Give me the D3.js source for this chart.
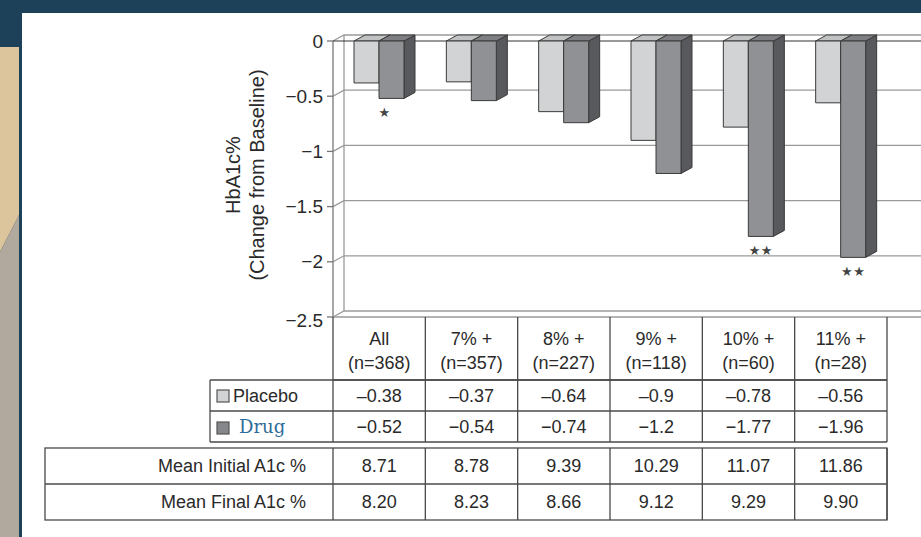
<!DOCTYPE html>
<html>
<head>
<meta charset="utf-8">
<script src="https://cdn.jsdelivr.net/npm/d3@7"></script>
<style>
  body { margin: 0; background: #fff; }
  svg { display: block; font-family: "Liberation Sans", Arial, Helvetica, sans-serif; }
</style>
</head>
<body>
<svg width="921" height="537"></svg>
<script>
const categories   = ["All", "7% +", "8% +", "9% +", "10% +", "11% +"];
const groupSizes   = ["(n=368)", "(n=357)", "(n=227)", "(n=118)", "(n=60)", "(n=28)"];
const placebo      = [-0.38, -0.37, -0.64, -0.9, -0.78, -0.56];
const drug         = [-0.52, -0.54, -0.74, -1.2, -1.77, -1.96];
const significance = ["*", "", "", "", "**", "**"];
const meanInitial  = ["8.71", "8.78", "9.39", "10.29", "11.07", "11.86"];
const meanFinal    = ["8.20", "8.23", "8.66", "9.12", "9.29", "9.90"];
const yTicks       = [0, -0.5, -1, -1.5, -2, -2.5];

const svg = d3.select("svg");
const W = 921, H = 537;
const depth = { dx: 11, dy: -6 };
const gridColor = "#9a9a9a";
const lineColor = "#4a4a4a";

// slide background
svg.append("rect").attr("width", W).attr("height", H).attr("fill", "#fff");
svg.append("rect").attr("width", W).attr("height", 13).attr("fill", "#1c4159");
svg.append("rect").attr("width", 22).attr("height", H).attr("fill", "#1c4159");
svg.append("polygon").attr("points", "0,47 19,47 19,215 0,252").attr("fill", "#dcc59c");
svg.append("polygon").attr("points", "0,252 19,215 19,537 0,537").attr("fill", "#b2a99e");

const x = d3.scaleBand().domain(categories).range([333, 887]);
const xSeries = d3.scaleBand().domain(["placebo", "drug"]).range([21, 71]);
const y = d3.scaleLinear().domain([-2.5, 0]).range([317, 41]);
const x0 = x.range()[0];

// walls and gridlines
const grid = svg.append("g").attr("class", "grid").attr("fill", "none");

grid.selectAll("polyline.back")
  .data(yTicks)
  .join("polyline")
    .attr("class", "back")
    .attr("stroke", gridColor)
    .attr("stroke-width", 1.3)
    .attr("points", d => `${x0},${y(d)} ${x0 + depth.dx},${y(d) + depth.dy} ${W},${y(d) + depth.dy}`);

grid.append("line")
    .attr("x1", x0 + depth.dx).attr("x2", x0 + depth.dx)
    .attr("y1", y(0) + depth.dy).attr("y2", y(-2.5) + depth.dy)
    .attr("stroke", gridColor).attr("stroke-width", 1.3);

grid.append("line")
    .attr("x1", x0).attr("x2", W)
    .attr("y1", y(-2.5)).attr("y2", y(-2.5))
    .attr("stroke", gridColor).attr("stroke-width", 1.3);

grid.append("line")
    .attr("x1", x0).attr("x2", W)
    .attr("y1", y(0)).attr("y2", y(0))
    .attr("stroke", "#333").attr("stroke-width", 1.2);

// y axis
const yAxis = svg.append("g").attr("class", "y-axis");

yAxis.append("line")
    .attr("x1", x0).attr("x2", x0)
    .attr("y1", y(0)).attr("y2", y(-2.5))
    .attr("stroke", "#777").attr("stroke-width", 1.3);

yAxis.selectAll("g")
  .data(yTicks)
  .join("g")
    .call(g => g.append("line")
      .attr("x1", x0 - 6).attr("x2", x0)
      .attr("y1", d => y(d)).attr("y2", d => y(d))
      .attr("stroke", "#777").attr("stroke-width", 1.3))
    .call(g => g.append("text")
      .attr("x", x0 - 10)
      .attr("y", d => y(d) + (d === -2.5 ? 3 : 0))
      .attr("dy", "0.35em")
      .attr("text-anchor", "end")
      .attr("font-size", 19)
      .attr("fill", "#2a2a2a")
      .text(d => d === 0 ? "0" : "\u2212" + Math.abs(d)));

const yTitle = svg.append("text")
    .attr("transform", "translate(243, 175) rotate(-90)")
    .attr("text-anchor", "middle")
    .attr("font-size", 20)
    .attr("fill", "#2a2a2a");
yTitle.append("tspan").attr("x", 0).attr("dy", "-0.15em").text("HbA1c%");
yTitle.append("tspan").attr("x", 0).attr("dy", "1.2em").text("(Change from Baseline)");

// 3D bars
const bars = [];
categories.forEach((c, i) => {
  bars.push({ cat: c, series: "placebo", value: placebo[i] });
  bars.push({ cat: c, series: "drug", value: drug[i] });
});

const colors = {
  placebo: { front: "#d1d3d4", top: "#c0c2c3", side: "#a5a7a9" },
  drug:    { front: "#909194", top: "#7e7f82", side: "#58595c" }
};

const barG = svg.append("g").attr("class", "bars")
    .attr("stroke", "#3a3a3a").attr("stroke-width", 1).attr("stroke-linejoin", "round");

barG.selectAll("g")
  .data(bars)
  .join("g")
    .each(function(d) {
      const g = d3.select(this);
      const bx = x(d.cat) + xSeries(d.series);
      const bw = xSeries.bandwidth();
      const yt = y(0), yb = y(d.value);
      const { dx, dy } = depth;
      g.append("polygon")
        .attr("fill", colors[d.series].side)
        .attr("points", `${bx + bw},${yt} ${bx + bw + dx},${yt + dy} ${bx + bw + dx},${yb + dy} ${bx + bw},${yb}`);
      g.append("polygon")
        .attr("fill", colors[d.series].top)
        .attr("points", `${bx},${yt} ${bx + dx},${yt + dy} ${bx + bw + dx},${yt + dy} ${bx + bw},${yt}`);
      g.append("rect")
        .attr("fill", colors[d.series].front)
        .attr("x", bx).attr("y", yt)
        .attr("width", bw).attr("height", yb - yt);
    });

// significance stars under drug bars
svg.append("g").attr("class", "stars")
  .selectAll("text")
  .data(categories.map((c, i) => ({ cat: c, value: drug[i], mark: significance[i] })).filter(d => d.mark))
  .join("text")
    .attr("x", d => x(d.cat) + xSeries("drug") + xSeries.bandwidth() / 2 - (d.mark.length === 1 ? 7 : 0))
    .attr("y", d => y(d.value) + 19)
    .attr("text-anchor", "middle")
    .attr("font-family", "DejaVu Sans, sans-serif")
    .attr("font-size", 13)
    .attr("letter-spacing", 0.5)
    .attr("fill", "#444")
    .text(d => d.mark.replace(/\*/g, "\u2605"));

// data table
const table = svg.append("g").attr("class", "table");
const colEdges = categories.map(c => x(c)).concat([x.range()[1]]);
const center = c => x(c) + x.bandwidth() / 2;
const fmt = (d, dash) => dash + Math.abs(d);

const hLine = (x1, x2, yy) => table.append("line")
  .attr("x1", x1).attr("x2", x2).attr("y1", yy).attr("y2", yy)
  .attr("stroke", lineColor).attr("stroke-width", 1.3);
const vLine = (xx, y1, y2) => table.append("line")
  .attr("x1", xx).attr("x2", xx).attr("y1", y1).attr("y2", y2)
  .attr("stroke", lineColor).attr("stroke-width", 1.3);

// header + series rows
colEdges.forEach(e => vLine(e, 317, 442));
hLine(333, 887, 380);
hLine(210, 887, 380);
hLine(210, 887, 411);
hLine(210, 887, 442);
vLine(210, 380, 442);

// mean rows
table.append("rect")
    .attr("x", 45).attr("y", 448).attr("width", 887 - 45).attr("height", 72)
    .attr("fill", "none").attr("stroke", lineColor).attr("stroke-width", 1.3);
hLine(45, 887, 484);
colEdges.forEach(e => vLine(e, 448, 520));

const cellText = (data, yy, textFn) => table.append("g")
  .selectAll("text")
  .data(data)
  .join("text")
    .attr("x", (d, i) => center(categories[i]))
    .attr("y", yy)
    .attr("text-anchor", "middle")
    .attr("font-size", 18)
    .attr("fill", "#2a2a2a")
    .text(textFn);

cellText(categories, 345, d => d);
cellText(groupSizes, 369, d => d);
cellText(placebo, 395.5, d => fmt(d, "\u2013")).attr("dy", "0.35em");
cellText(drug, 426.5, d => fmt(d, "\u2212")).attr("dy", "0.35em");
cellText(meanInitial, 466, d => d).attr("dy", "0.35em");
cellText(meanFinal, 502, d => d).attr("dy", "0.35em");

// legend cells
table.append("rect")
    .attr("x", 217).attr("y", 390).attr("width", 12).attr("height", 12)
    .attr("fill", "#d1d3d4").attr("stroke", "#555").attr("stroke-width", 1.2);
table.append("text")
    .attr("x", 233).attr("y", 395.5).attr("dy", "0.35em")
    .attr("font-size", 18).attr("fill", "#2a2a2a")
    .text("Placebo");

table.append("rect")
    .attr("x", 217).attr("y", 422).attr("width", 12).attr("height", 12)
    .attr("fill", "#86878a").attr("stroke", "#555").attr("stroke-width", 1.2);
table.append("text")
    .attr("x", 239).attr("y", 426.5).attr("dy", "0.35em")
    .attr("font-family", "DejaVu Serif, serif")
    .attr("font-size", 18).attr("fill", "#2b6c99")
    .text("Drug");

table.append("text")
    .attr("x", 306).attr("y", 466).attr("dy", "0.35em")
    .attr("text-anchor", "end").attr("font-size", 18).attr("fill", "#2a2a2a")
    .text("Mean Initial A1c %");
table.append("text")
    .attr("x", 306).attr("y", 502).attr("dy", "0.35em")
    .attr("text-anchor", "end").attr("font-size", 18).attr("fill", "#2a2a2a")
    .text("Mean Final A1c %");
</script>
</body>
</html>
